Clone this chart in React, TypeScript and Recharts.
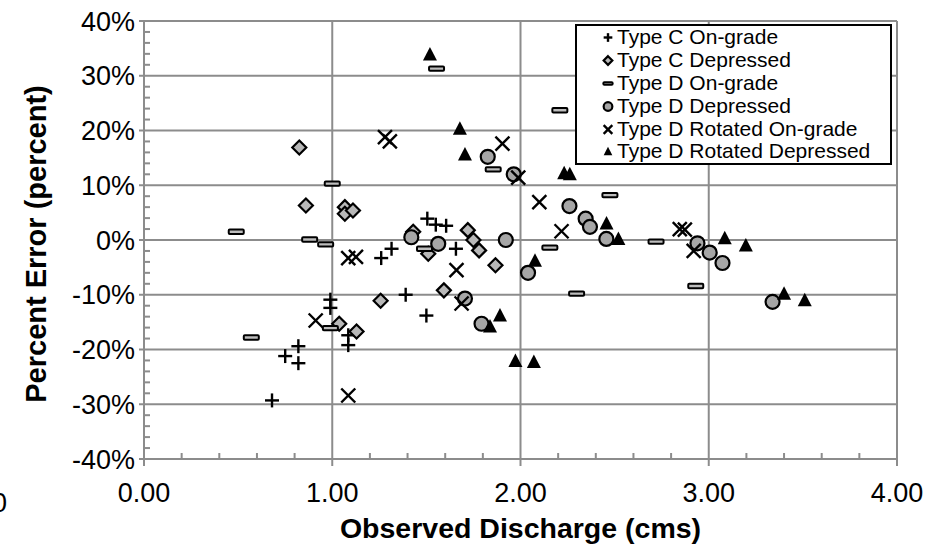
import React from 'react';
import { ScatterChart, Scatter, XAxis, YAxis, CartesianGrid, Legend, Label } from 'recharts';

// ---- data (Observed Discharge in cms, Percent Error in %) ----
const typeCOnGradeQ = [0.68, 0.75, 0.82, 0.82, 0.99, 0.99, 1.085, 1.085, 1.26, 1.315, 1.39, 1.50, 1.505, 1.55, 1.605, 1.657];
const typeCOnGradeErr = [-29.3, -21.2, -19.4, -22.5, -10.9, -12.4, -17.4, -19.2, -3.3, -1.6, -10.0, -13.8, 3.9, 2.8, 2.6, -1.6];

const typeCDepQ = [0.825, 0.86, 1.037, 1.067, 1.067, 1.11, 1.129, 1.257, 1.43, 1.51, 1.593, 1.72, 1.75, 1.78, 1.867];
const typeCDepErr = [16.9, 6.3, -15.3, 6.0, 4.8, 5.4, -16.7, -11.1, 1.5, -2.5, -9.2, 1.8, 0.0, -1.9, -4.6];

const typeDOnGradeQ = [0.49, 0.57, 0.88, 0.965, 0.99, 1.0, 1.49, 1.554, 1.855, 2.156, 2.209, 2.298, 2.475, 2.72, 2.931];
const typeDOnGradeErr = [1.5, -17.8, 0.1, -0.8, -16.1, 10.3, -1.6, 31.3, 12.9, -1.4, 23.7, -9.8, 8.2, -0.3, -8.4];

const typeDDepQ = [1.42, 1.563, 1.705, 1.793, 1.826, 1.922, 1.964, 2.04, 2.26, 2.346, 2.369, 2.456, 2.94, 3.005, 3.073, 3.339];
const typeDDepErr = [0.5, -0.7, -10.7, -15.3, 15.2, 0.0, 12.0, -6.0, 6.2, 3.9, 2.4, 0.2, -0.6, -2.3, -4.2, -11.3];

const typeDRotOnGradeQ = [0.912, 1.085, 1.085, 1.126, 1.28, 1.306, 1.66, 1.687, 1.904, 1.988, 2.10, 2.218, 2.846, 2.873, 2.92];
const typeDRotOnGradeErr = [-14.7, -3.3, -28.4, -3.1, 18.8, 18.0, -5.5, -11.6, 17.6, 11.4, 6.9, 1.6, 2.0, 1.9, -2.0];

const typeDRotDepQ = [1.519, 1.678, 1.705, 1.838, 1.891, 1.973, 2.071, 2.077, 2.232, 2.262, 2.457, 2.52, 3.085, 3.197, 3.40, 3.51];
const typeDRotDepErr = [33.9, 20.3, 15.6, -15.8, -13.8, -22.1, -22.3, -3.8, 12.2, 12.0, 3.0, 0.2, 0.3, -1.0, -9.8, -11.0];

const seriesNames = [
  'Type C On-grade',
  'Type C Depressed',
  'Type D On-grade',
  'Type D Depressed',
  'Type D Rotated On-grade',
  'Type D Rotated Depressed',
];

const xTicks = [0, 1, 2, 3, 4];
const yTicks = [-40, -30, -20, -10, 0, 10, 20, 30, 40];
const xMinorTicks = [0.2, 0.4, 0.6, 0.8, 1.2, 1.4, 1.6, 1.8, 2.2, 2.4, 2.6, 2.8, 3.2, 3.4, 3.6, 3.8];
const yMinorTicks = [-38, -36, -34, -32, -28, -26, -24, -22, -18, -16, -14, -12, -8, -6, -4, -2,
  2, 4, 6, 8, 12, 14, 16, 18, 22, 24, 26, 28, 32, 34, 36, 38];

const xTitle = 'Observed Discharge (cms)';
const yTitle = 'Percent Error (percent)';

const zip = (xs: number[], ys: number[]) => xs.map((x, i) => ({ x, y: ys[i] }));

const FONT = '"Liberation Sans", Arial, sans-serif';
const GRID = '#8c8c8c';

// ---- marker shapes ----
type Kind = 'plus' | 'diamond' | 'dash' | 'circle' | 'cross' | 'triangle';

const Marker = ({ kind, cx, cy, s = 1 }: { kind: Kind; cx: number; cy: number; s?: number }) => {
  switch (kind) {
    case 'plus':
      return (
        <g stroke="#000" strokeWidth={2.4}>
          <line x1={cx - 7 * s} y1={cy} x2={cx + 7 * s} y2={cy} />
          <line x1={cx} y1={cy - 7 * s} x2={cx} y2={cy + 7 * s} />
        </g>
      );
    case 'diamond':
      return (
        <polygon
          points={`${cx},${cy - 7 * s} ${cx + 7 * s},${cy} ${cx},${cy + 7 * s} ${cx - 7 * s},${cy}`}
          fill="#b8b8b8"
          stroke="#000"
          strokeWidth={2.2}
        />
      );
    case 'dash':
      return (
        <rect x={cx - 7.5 * s} y={cy - 2.2 * s} width={15 * s} height={4.4 * s} rx={1} fill="#bdbdbd" stroke="#000" strokeWidth={2} />
      );
    case 'circle':
      return <circle cx={cx} cy={cy} r={7 * s} fill="#a6a6a6" stroke="#000" strokeWidth={2.2} />;
    case 'cross':
      return (
        <g stroke="#000" strokeWidth={2.4}>
          <line x1={cx - 7 * s} y1={cy - 7 * s} x2={cx + 7 * s} y2={cy + 7 * s} />
          <line x1={cx - 7 * s} y1={cy + 7 * s} x2={cx + 7 * s} y2={cy - 7 * s} />
        </g>
      );
    case 'triangle':
    default:
      return (
        <polygon points={`${cx},${cy - 7.5 * s} ${cx + 7 * s},${cy + 6 * s} ${cx - 7 * s},${cy + 6 * s}`} fill="#000" />
      );
  }
};

const shapeOf = (kind: Kind) => (props: any) => <Marker kind={kind} cx={props.cx} cy={props.cy} />;

const series: { name: string; kind: Kind; data: { x: number; y: number }[] }[] = [
  { name: seriesNames[0], kind: 'plus', data: zip(typeCOnGradeQ, typeCOnGradeErr) },
  { name: seriesNames[1], kind: 'diamond', data: zip(typeCDepQ, typeCDepErr) },
  { name: seriesNames[2], kind: 'dash', data: zip(typeDOnGradeQ, typeDOnGradeErr) },
  { name: seriesNames[3], kind: 'circle', data: zip(typeDDepQ, typeDDepErr) },
  { name: seriesNames[4], kind: 'cross', data: zip(typeDRotOnGradeQ, typeDRotOnGradeErr) },
  { name: seriesNames[5], kind: 'triangle', data: zip(typeDRotDepQ, typeDRotDepErr) },
];

const LegendBox = () => (
  <div
    style={{
      boxSizing: 'border-box',
      width: 317,
      height: 141,
      border: '2px solid #000',
      background: '#fff',
      fontFamily: FONT,
      fontSize: 21,
      lineHeight: '22.9px',
      color: '#000',
      paddingTop: 0,
    }}
  >
    {series.map((s) => (
      <div key={s.name} style={{ display: 'flex', alignItems: 'center', height: 22.9, whiteSpace: 'nowrap' }}>
        <svg width={40} height={22.9} style={{ flex: 'none' }}>
          <Marker kind={s.kind} cx={31} cy={11.5} s={0.62} />
        </svg>
        <span>{s.name}</span>
      </div>
    ))}
  </div>
);

const EmptyTick = () => <g />;

const XTitle = (props: any) => {
  const vb = props.viewBox || {};
  return (
    <text x={vb.x + vb.width / 2} y={vb.y + 79} textAnchor="middle" fontFamily={FONT} fontSize={28.5} fontWeight="bold" fill="#000">
      {xTitle}
    </text>
  );
};

const YTitle = (props: any) => {
  const vb = props.viewBox || {};
  const cx = vb.x + 36;
  const cy = vb.y + vb.height / 2 + 4;
  return (
    <text
      x={cx}
      y={cy}
      transform={`rotate(-90 ${cx} ${cy})`}
      textAnchor="middle"
      dominantBaseline="central"
      fontFamily={FONT}
      fontSize={29}
      fontWeight="bold"
      fill="#000"
    >
      {yTitle}
    </text>
  );
};

export default function App() {
  return (
    <div style={{ position: 'absolute', left: 0, top: 0, width: 936, height: 544, background: '#fff', overflow: 'hidden' }}>
      <ScatterChart width={936} height={544} margin={{ top: 21, right: 39, bottom: 0, left: 0 }}>
        <CartesianGrid stroke={GRID} strokeWidth={2} horizontalValues={yTicks} verticalValues={xTicks} />
        <XAxis
          type="number"
          dataKey="x"
          domain={[0, 4]}
          ticks={xTicks}
          interval={0}
          height={85}
          tickFormatter={(v: number) => v.toFixed(2)}
          tick={{ fill: '#000', fontFamily: FONT, fontSize: 27 }}
          tickSize={7}
          tickMargin={17}
          axisLine={{ stroke: GRID, strokeWidth: 2 }}
          tickLine={{ stroke: GRID, strokeWidth: 2 }}
          allowDataOverflow
        >
          <Label content={XTitle} />
        </XAxis>
        <XAxis
          xAxisId="minor"
          dataKey="x"
          type="number"
          domain={[0, 4]}
          ticks={xMinorTicks}
          interval={0}
          mirror
          orientation="bottom"
          axisLine={false}
          tick={EmptyTick}
          tickSize={6}
          tickLine={{ stroke: GRID, strokeWidth: 2 }}
          allowDataOverflow
        />
        <YAxis
          type="number"
          dataKey="y"
          domain={[-40, 40]}
          ticks={yTicks}
          interval={0}
          width={144}
          tickFormatter={(v: number) => `${v}%`}
          tick={{ fill: '#000', fontFamily: FONT, fontSize: 27 }}
          tickSize={5}
          tickMargin={4}
          axisLine={{ stroke: GRID, strokeWidth: 2 }}
          tickLine={{ stroke: GRID, strokeWidth: 2 }}
          allowDataOverflow
        >
          <Label content={YTitle} />
        </YAxis>
        <YAxis
          yAxisId="minor"
          dataKey="y"
          type="number"
          domain={[-40, 40]}
          ticks={yMinorTicks}
          interval={0}
          mirror
          orientation="left"
          axisLine={false}
          tick={EmptyTick}
          tickSize={6}
          tickLine={{ stroke: GRID, strokeWidth: 2 }}
          allowDataOverflow
        />
        {series.map((s) => (
          <Scatter key={s.name} name={s.name} data={s.data} shape={shapeOf(s.kind)} isAnimationActive={false} />
        ))}
        <Legend
          layout="vertical"
          align="center"
          verticalAlign="middle"
          content={LegendBox}
          wrapperStyle={{ left: 575, top: 24, width: 317, height: 141 }}
        />
      </ScatterChart>
      <div style={{ position: 'absolute', left: -8, top: 488, fontFamily: FONT, fontSize: 27, color: '#000' }}>0</div>
    </div>
  );
}
